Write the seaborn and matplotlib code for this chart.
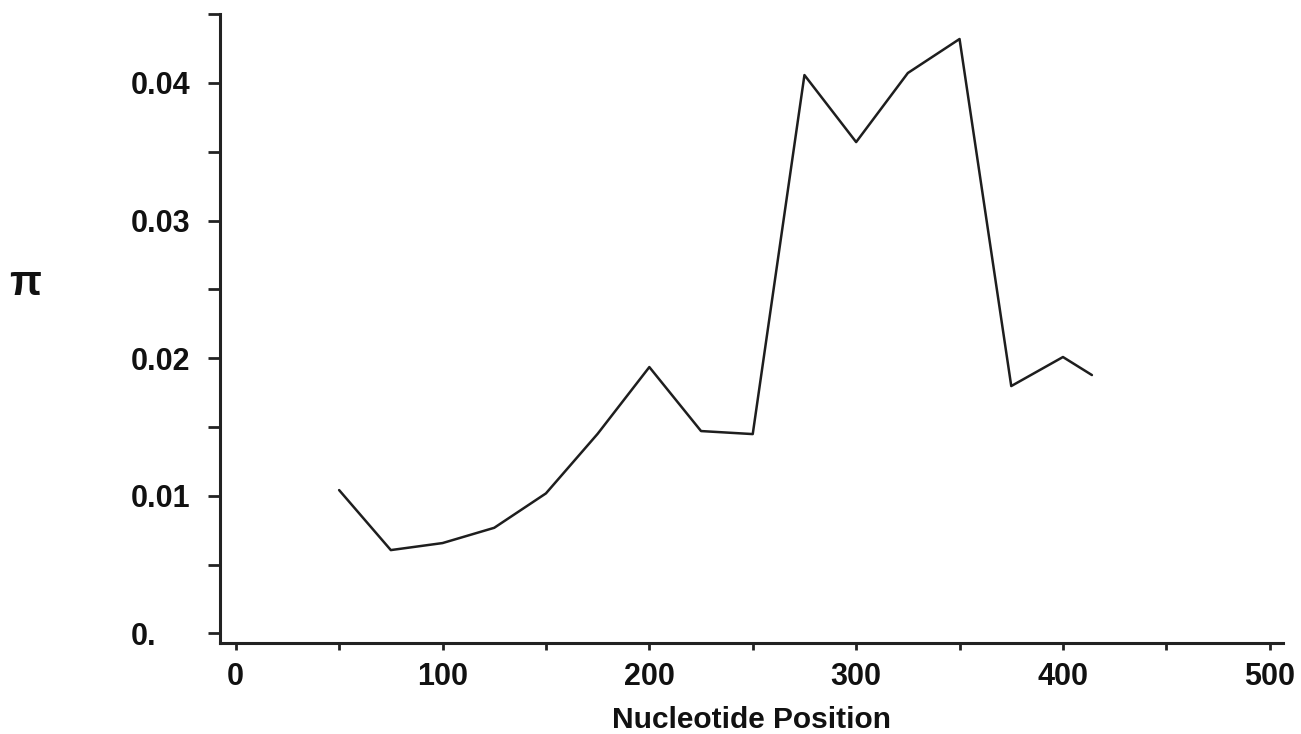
import matplotlib
matplotlib.use("Agg")
import matplotlib.pyplot as plt
import seaborn as sns
import pandas as pd
from matplotlib.ticker import MultipleLocator, FuncFormatter

# Data
positions = [50, 75, 100, 125, 150, 175, 200, 225, 250, 275, 300, 325, 350, 375, 400, 414]
pi_values = [0.01041, 0.00605, 0.00656, 0.00767, 0.01017, 0.01450, 0.01935, 0.01470,
             0.01448, 0.04057, 0.03570, 0.04072, 0.04319, 0.01797, 0.02008, 0.01877]
x_major_ticks = [0, 100, 200, 300, 400, 500]
y_major_labels = ["0.", "0.01", "0.02", "0.03", "0.04"]

df = pd.DataFrame({"pos": positions, "pi": pi_values})

sns.set_style("white")
plt.rcParams["font.family"] = ["Liberation Sans", "DejaVu Sans"]
plt.rcParams["font.weight"] = "bold"
plt.rcParams["text.color"] = "#111111"
plt.rcParams["axes.labelcolor"] = "#111111"
plt.rcParams["xtick.labelcolor"] = "#111111"
plt.rcParams["ytick.labelcolor"] = "#111111"

W, H = 1301, 734
fig = plt.figure(figsize=(W / 100, H / 100), dpi=100)
left, right, bottom, top = 220, 1283, 642.7, 14.1
ax = fig.add_axes([left / W, 1 - bottom / H, (right - left) / W, (bottom - top) / H])

sns.lineplot(data=df, x="pos", y="pi", ax=ax, color="#1e1e1e", linewidth=1.8)

ax.set_xlim(-7.6, 506.4)
ax.set_ylim(-0.00068, 0.045)

for s in ["top", "right"]:
    ax.spines[s].set_visible(False)
for s in ["left", "bottom"]:
    ax.spines[s].set_color("#222222")
    ax.spines[s].set_linewidth(2.2)

ax.set_xticks(x_major_ticks)
ax.xaxis.set_minor_locator(MultipleLocator(50))
ax.yaxis.set_major_locator(MultipleLocator(0.01))
ax.yaxis.set_minor_locator(MultipleLocator(0.005))

ax.yaxis.set_major_formatter(FuncFormatter(
    lambda v, p: y_major_labels[int(round(v / 0.01))] if 0 <= round(v / 0.01) < len(y_major_labels) else ""))
ax.xaxis.set_major_formatter(FuncFormatter(lambda v, p: f"{int(round(v))}"))

ax.tick_params(axis="y", which="both", direction="out", length=8.5, width=2, color="#222222",
               left=True, labelsize=22, pad=56)
ax.tick_params(axis="x", which="both", direction="out", length=5, width=2, color="#222222",
               bottom=True, labelsize=22, pad=9)
for lab in ax.get_yticklabels():
    lab.set_horizontalalignment("left")
    lab.set_fontweight("bold")
for lab in ax.get_xticklabels():
    lab.set_fontweight("bold")

ax.set_xlabel("Nucleotide Position", fontsize=21.5, fontweight="bold", labelpad=10)
ax.set_ylabel("π", fontsize=30, fontweight="bold", rotation=0, va="center", ha="center")
ax.yaxis.set_label_coords((25 - left) / (right - left), (bottom - 284) / (bottom - top))

fig.savefig("out.png", dpi=100)
